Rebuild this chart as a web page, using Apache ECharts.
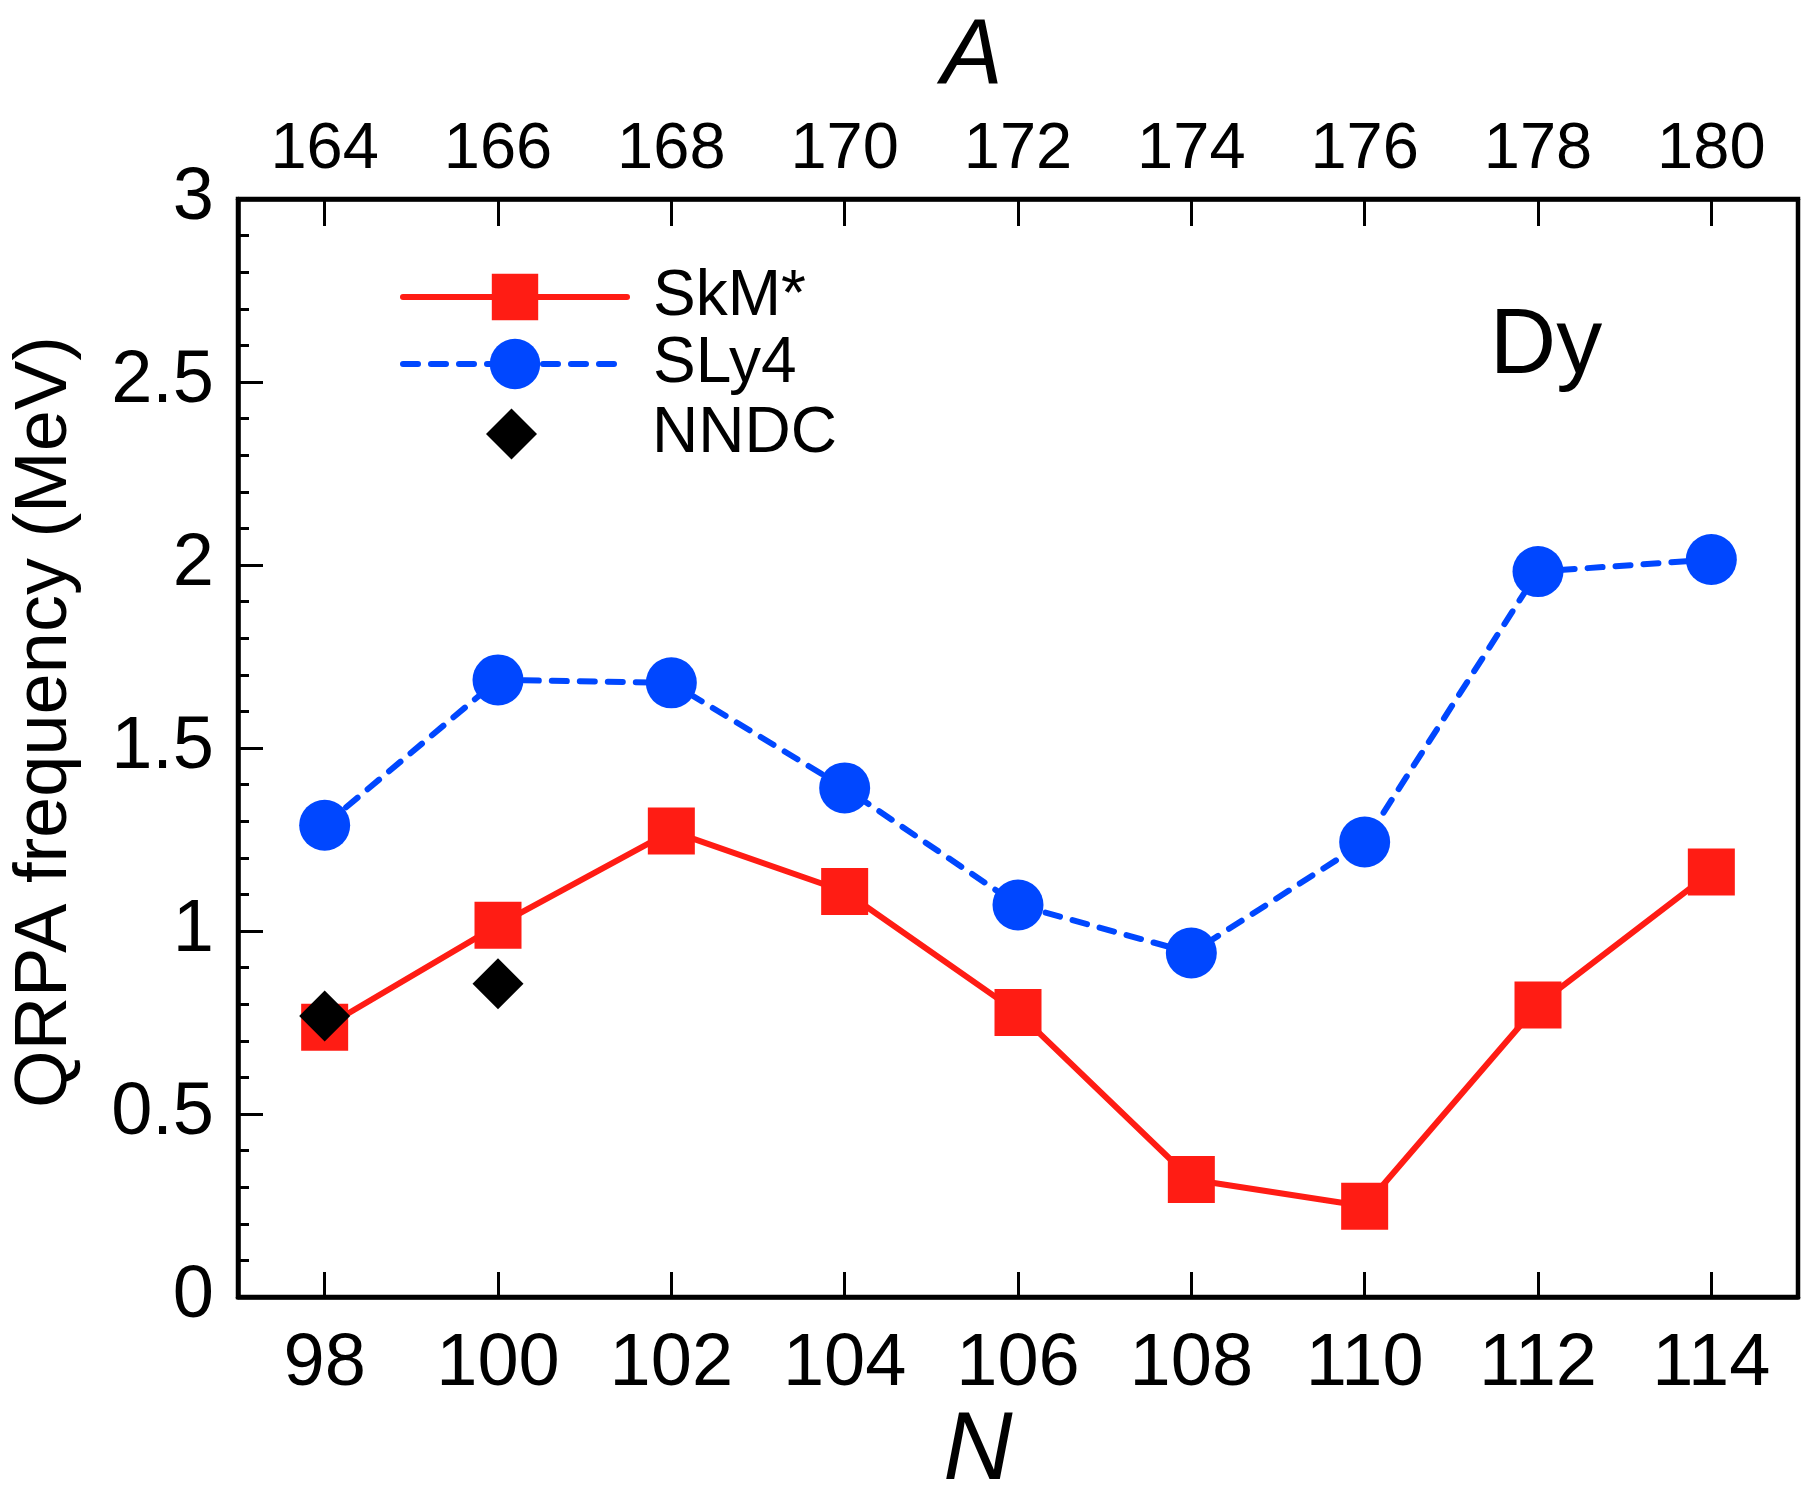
<!DOCTYPE html>
<html>
<head>
<meta charset="utf-8">
<title>QRPA frequency, Dy isotopes</title>
<script src="https://cdn.jsdelivr.net/npm/echarts@6/dist/echarts.min.js"></script>
<style>
  html, body { margin: 0; padding: 0; background: #ffffff; }
  #chart { width: 1819px; height: 1498px; }
</style>
</head>
<body>
<div id="chart"></div>
<script>
// Neutron number N (bottom axis) and mass number A (top axis) ticks
const nTicks = [98, 100, 102, 104, 106, 108, 110, 112, 114];
const aTicks = [164, 166, 168, 170, 172, 174, 176, 178, 180];

// QRPA frequencies (MeV) for each N
const skmStar = [0.737, 1.016, 1.273, 1.108, 0.777, 0.321, 0.248, 0.798, 1.161];
const sly4 = [1.289, 1.686, 1.678, 1.391, 1.071, 0.940, 1.243, 1.982, 2.015];

// Measured values (NNDC)
const nndcN = [98, 100];
const nndcE = [0.768, 0.856];

const FONT = '"Liberation Sans", Arial, Helvetica, sans-serif';
const RED = '#ff1c14';
const BLUE = '#0047ff';

const pairs = (xs, ys) => xs.map((x, i) => [x, ys[i]]);

const chart = echarts.init(document.getElementById('chart'), null, { renderer: 'canvas' });

const axisLineStyle = { color: '#000', width: 4.5 };
const tickLineStyle = { color: '#000', width: 3 };

const legendText = (pad) => ({ fontFamily: FONT, fontSize: 64, color: '#000', lineHeight: 40, padding: [0, 0, 0, pad] });

chart.setOption({
  backgroundColor: '#ffffff',
  animation: false,
  grid: {
    left: 238, right: 21, top: 199, bottom: 201,
    show: true, borderColor: '#000', borderWidth: 4.5, backgroundColor: 'transparent'
  },
  legend: [
    {
      data: ['SkM*'], orient: 'vertical', left: 400, top: 265, padding: 0,
      itemWidth: 224, itemHeight: 58, textStyle: legendText(21), selectedMode: false,
      lineStyle: { width: 6, cap: 'round' }
    },
    {
      data: ['SLy4'], orient: 'vertical', left: 400, top: 332, padding: 0,
      itemWidth: 224, itemHeight: 63, textStyle: legendText(21), selectedMode: false,
      lineStyle: { width: 6, type: [15, 13], cap: 'round' }
    },
    {
      data: ['NNDC'], orient: 'vertical', left: 486, top: 402, padding: 0,
      itemWidth: 51, itemHeight: 51, textStyle: legendText(110), selectedMode: false,
      itemStyle: { opacity: 1 }
    }
  ],
  xAxis: [
    {
      type: 'value', position: 'bottom', min: 97, max: 115,
      axisLine: { show: true, onZero: false, lineStyle: axisLineStyle },
      axisTick: { show: true, inside: true, length: 25, customValues: nTicks, lineStyle: tickLineStyle },
      axisLabel: { customValues: nTicks, margin: 31, fontFamily: FONT, fontSize: 74, color: '#000' },
      splitLine: { show: false }
    },
    {
      type: 'value', position: 'top', min: 163, max: 181,
      axisLine: { show: true, onZero: false, lineStyle: axisLineStyle },
      axisTick: { show: true, inside: true, length: 27, customValues: aTicks, lineStyle: tickLineStyle },
      axisLabel: { customValues: aTicks, margin: 16, fontFamily: FONT, fontSize: 65, color: '#000' },
      splitLine: { show: false }
    }
  ],
  yAxis: {
    type: 'value', min: 0, max: 3, interval: 0.5,
    axisLine: { show: true, onZero: false, lineStyle: axisLineStyle },
    axisTick: { show: true, inside: true, length: 25, lineStyle: tickLineStyle },
    minorTick: { show: true, splitNumber: 5, length: 11, lineStyle: tickLineStyle },
    axisLabel: { margin: 24, fontFamily: FONT, fontSize: 74, color: '#000' },
    splitLine: { show: false },
    minorSplitLine: { show: false }
  },
  series: [
    {
      name: 'SkM*', type: 'line', xAxisIndex: 0,
      data: pairs(nTicks, skmStar),
      symbol: 'rect', symbolSize: 47,
      itemStyle: { color: RED },
      lineStyle: { color: RED, width: 6, cap: 'round' },
      z: 2
    },
    {
      name: 'SLy4', type: 'line', xAxisIndex: 0,
      data: pairs(nTicks, sly4),
      symbol: 'circle', symbolSize: 51,
      itemStyle: { color: BLUE },
      lineStyle: { color: BLUE, width: 6, type: [15, 13], cap: 'round' },
      z: 3
    },
    {
      name: 'NNDC', type: 'scatter', xAxisIndex: 0,
      data: pairs(nndcN, nndcE),
      symbol: 'diamond', symbolSize: 51,
      itemStyle: { color: '#000', opacity: 1 },
      z: 4
    }
  ],
  graphic: [
    {
      type: 'text', x: 972, y: 58,
      style: { text: 'A', fontFamily: FONT, fontStyle: 'italic', fontSize: 92, fill: '#000', align: 'center', verticalAlign: 'middle' }
    },
    {
      type: 'text', x: 978, y: 1452,
      style: { text: 'N', fontFamily: FONT, fontStyle: 'italic', fontSize: 96, fill: '#000', align: 'center', verticalAlign: 'middle' }
    },
    {
      type: 'text', x: 46, y: 722, rotation: Math.PI / 2,
      style: { text: 'QRPA frequency (MeV)', fontFamily: FONT, fontSize: 74, fill: '#000', align: 'center', verticalAlign: 'middle' }
    },
    {
      type: 'text', x: 1546, y: 348,
      style: { text: 'Dy', fontFamily: FONT, fontSize: 92, fill: '#000', align: 'center', verticalAlign: 'middle' }
    }
  ]
});
</script>
</body>
</html>
